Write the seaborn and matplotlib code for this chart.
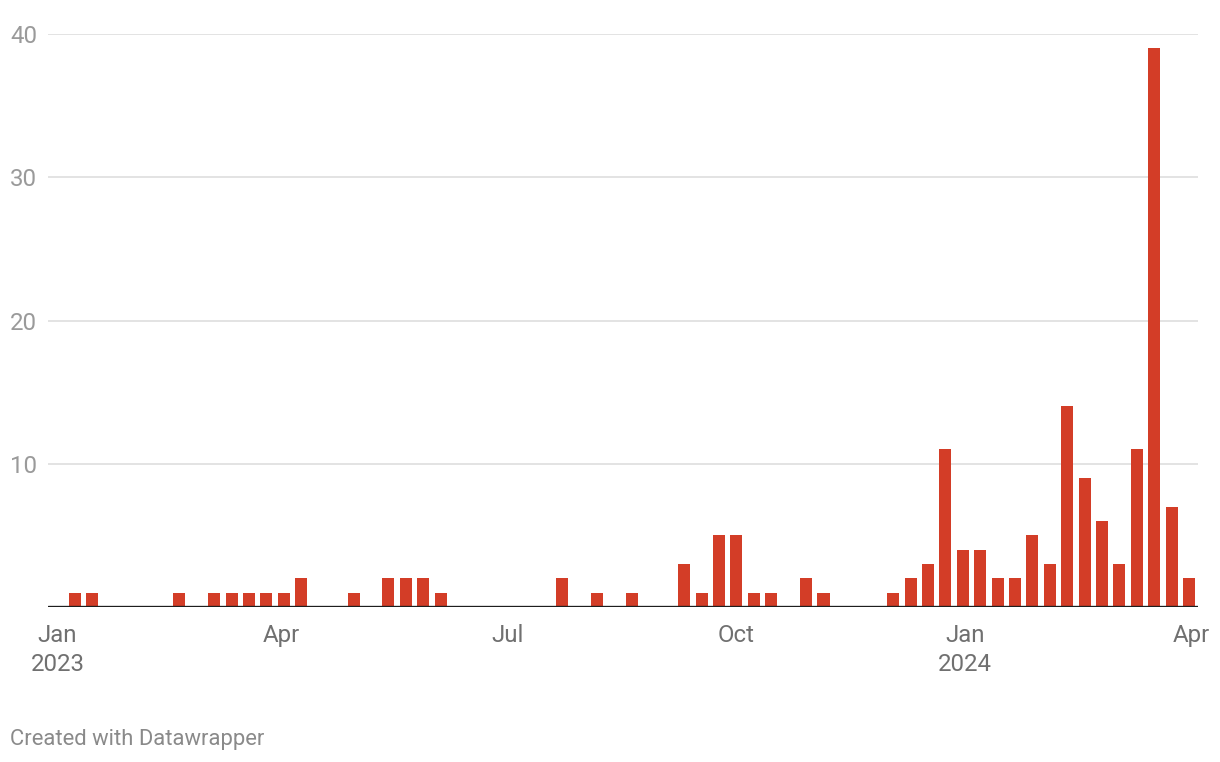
import matplotlib
matplotlib.use("Agg")
import matplotlib.pyplot as plt
import matplotlib.dates as mdates
import seaborn as sns
import pandas as pd
import numpy as np

# weekly counts (weeks ending Sunday), 2023-01-08 .. 2024-03-31
week_start = "2023-01-08"
counts = [1, 1, 0, 0, 0, 0, 1, 0, 1, 1,
          1, 1, 1, 2, 0, 0, 1, 0, 2, 2,
          2, 1, 0, 0, 0, 0, 0, 0, 2, 0,
          1, 0, 1, 0, 0, 3, 1, 5, 5, 1,
          1, 0, 2, 1, 0, 0, 0, 1, 2, 3,
          11, 4, 4, 2, 2, 5, 3, 14, 9, 6,
          3, 11, 39, 7, 2]
tick_dates = ["2023-01-01", "2023-04-01", "2023-07-01", "2023-10-01", "2024-01-01", "2024-04-01"]
tick_labels = ["Jan\n2023", "Apr", "Jul", "Oct", "Jan\n2024", "Apr"]
y_ticks = [0, 10, 20, 30, 40]
y_labels = ["", "10", "20", "30", "40"]

weeks = pd.date_range(week_start, periods=len(counts), freq="W-SUN")
df = pd.DataFrame({"x": mdates.date2num(weeks.to_pydatetime()), "n": counts})

sns.set_theme(style="white")
plt.rcParams["font.family"] = ["Roboto", "DejaVu Sans"]

fig = plt.figure(figsize=(12.2, 7.62), dpi=100)
ax = fig.add_axes([48/1220, 1 - 607/762, (1198 - 48)/1220, (607 - 34)/762])

sns.barplot(data=df, x="x", y="n", native_scale=True, width=0.69,
            color="#d33d27", saturation=1, linewidth=0, ax=ax, zorder=3)

x0 = mdates.date2num(pd.Timestamp("2023-01-01").to_pydatetime())
ax.set_xlim(x0 - 3.86, x0 + 458.6)
ax.set_ylim(0, 40)

ax.set_yticks(y_ticks)
ax.set_yticklabels(y_labels)
for t in ax.get_yticklabels():
    t.set_horizontalalignment("left")
ax.tick_params(axis="y", length=0, pad=27.4, labelsize=17.3, labelcolor="#9a9a9a")
ax.yaxis.grid(True, color="#e3e3e3", linewidth=1.4, zorder=0)
ax.set_axisbelow(True)

tpos = mdates.date2num(pd.to_datetime(tick_dates).to_pydatetime())
ax.set_xticks(tpos)
ax.set_xticklabels(tick_labels, linespacing=1.36)
ax.tick_params(axis="x", length=0, pad=12.2, labelsize=17.3, labelcolor="#707070")

for s in ax.spines.values():
    s.set_visible(False)
ax.axhline(0, color="#1e1e1e", linewidth=2.4, zorder=4)
ax.set_xlabel("")
ax.set_ylabel("")

fig.text(10/1220, 1 - 739/762, "Created with Datawrapper", ha="left", va="center",
         fontsize=15.8, color="#8a8a8a")

fig.savefig("out.png", dpi=100)
